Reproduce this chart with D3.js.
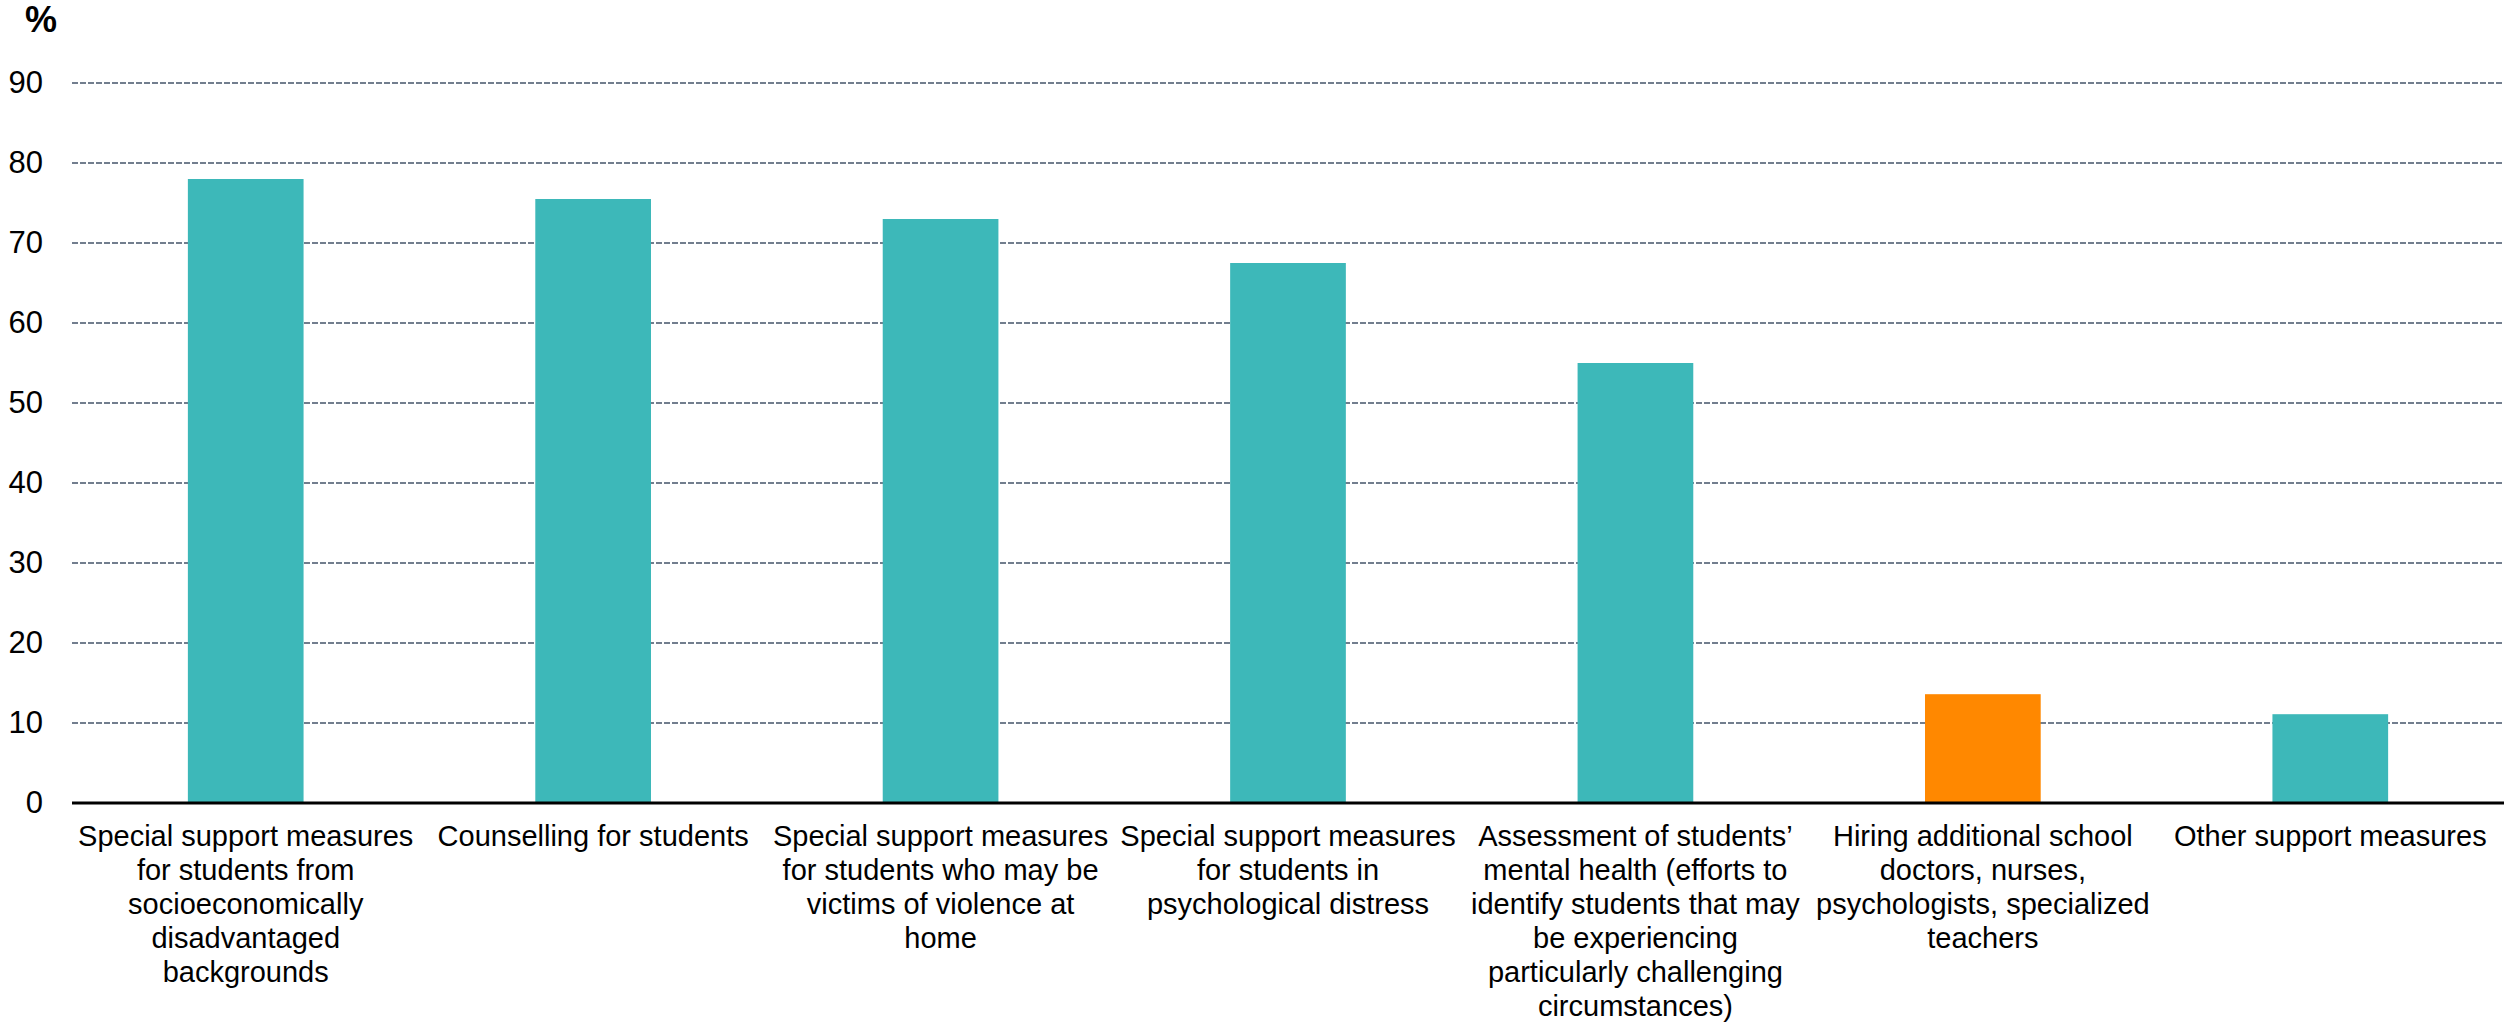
<!DOCTYPE html>
<html>
<head>
<meta charset="utf-8">
<script src="https://cdn.jsdelivr.net/npm/d3@7"></script>
<style>
  html, body { margin: 0; padding: 0; background: #ffffff; }
  svg { display: block; font-family: "Liberation Sans", Arial, Helvetica, sans-serif; }
</style>
</head>
<body>
<svg id="chart" width="2504" height="1023"></svg>
<script>
// ---- Data ----
const categories = [
  "Special support measures for students from socioeconomically disadvantaged backgrounds",
  "Counselling for students",
  "Special support measures for students who may be victims of violence at home",
  "Special support measures for students in psychological distress",
  "Assessment of students’ mental health (efforts to identify students that may be experiencing particularly challenging circumstances)",
  "Hiring additional school doctors, nurses, psychologists, specialized teachers",
  "Other support measures"
];
const categoryLabelLines = [
  ["Special support measures", "for students from", "socioeconomically", "disadvantaged", "backgrounds"],
  ["Counselling for students"],
  ["Special support measures", "for students who may be", "victims of violence at", "home"],
  ["Special support measures", "for students in", "psychological distress"],
  ["Assessment of students’", "mental health (efforts to", "identify students that may", "be experiencing", "particularly challenging", "circumstances)"],
  ["Hiring additional school", "doctors, nurses,", "psychologists, specialized", "teachers"],
  ["Other support measures"]
];
const values = [78.0, 75.5, 73.0, 67.5, 55.0, 13.6, 11.1];
const highlighted = ["Hiring additional school doctors, nurses, psychologists, specialized teachers"];
const yTicks = [0, 10, 20, 30, 40, 50, 60, 70, 80, 90];
const yUnit = "%";

// ---- Layout ----
const W = 2504, H = 1023;
const margin = { left: 72, right: 0, top: 83, bottom: 220 };
const plotLeft = margin.left, plotRight = W - margin.right;
const svg = d3.select("#chart");

const x = d3.scaleBand()
  .domain(categories)
  .range([plotLeft, plotRight])
  .paddingInner(0.667)
  .paddingOuter(0.3335);

const y = d3.scaleLinear()
  .domain([0, 90])
  .range([803, 83]);

// gridlines
svg.append("g")
  .selectAll("line")
  .data(yTicks.filter(t => t !== 0))
  .join("line")
  .attr("x1", plotLeft)
  .attr("x2", plotRight)
  .attr("y1", d => y(d))
  .attr("y2", d => y(d))
  .attr("stroke", "#44546a")
  .attr("stroke-width", 1.5)
  .attr("stroke-dasharray", "6,2");

// y axis labels
const yAxis = d3.axisLeft(y).tickValues(yTicks).tickSize(0).tickPadding(29).tickFormat(d3.format("d"));
const yg = svg.append("g").attr("transform", `translate(${plotLeft},0)`).call(yAxis);
yg.select(".domain").remove();
yg.selectAll("text")
  .attr("font-size", 31)
  .attr("fill", "#000")
  .attr("font-family", '"Liberation Sans", Arial, sans-serif');

// unit label
svg.append("text")
  .attr("x", 41)
  .attr("y", 32)
  .attr("text-anchor", "middle")
  .attr("font-size", 36)
  .attr("font-weight", "bold")
  .attr("fill", "#000")
  .text(yUnit);

// bars
svg.append("g")
  .selectAll("rect")
  .data(categories.map((c, i) => ({ c, v: values[i] })))
  .join("rect")
  .attr("x", d => x(d.c))
  .attr("width", x.bandwidth())
  .attr("y", d => y(d.v))
  .attr("height", d => y(0) - y(d.v))
  .attr("fill", d => highlighted.includes(d.c) ? "#ff8800" : "#3db8b9");

// x axis line
const xAxis = d3.axisBottom(x).tickSize(0).tickFormat("");
const xg = svg.append("g").attr("transform", `translate(0,${y(0)})`).call(xAxis);
xg.select(".domain").attr("stroke", "#000").attr("stroke-width", 3).attr("d", `M${plotLeft},0H${plotRight}`);

// category labels
const lab = svg.append("g")
  .selectAll("text")
  .data(categories.map((c, i) => ({ c, lines: categoryLabelLines[i] })))
  .join("text")
  .attr("text-anchor", "middle")
  .attr("font-size", 29)
  .attr("fill", "#000")
  .attr("transform", d => `translate(${x(d.c) + x.bandwidth() / 2},${y(0) + 43})`);
lab.selectAll("tspan")
  .data(d => d.lines)
  .join("tspan")
  .attr("x", 0)
  .attr("y", (d, i) => i * 34)
  .text(d => d);
</script>
</body>
</html>
